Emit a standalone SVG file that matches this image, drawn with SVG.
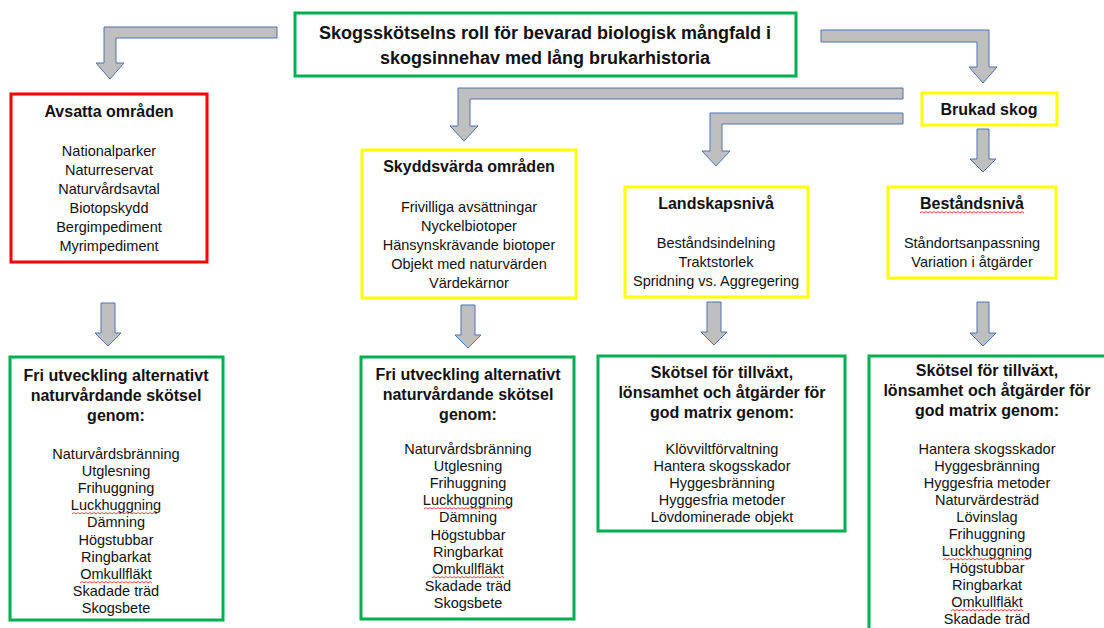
<svg xmlns="http://www.w3.org/2000/svg" width="1104" height="628" viewBox="0 0 1104 628">
<defs>
<style>
.t{font-family:"Liberation Sans",Arial,sans-serif;fill:#111;text-anchor:middle}
.h{font-weight:bold;font-size:16px}
.hb{font-weight:bold;font-size:18px}
.i{font-size:14.5px}
.bx{fill:#fff;stroke-width:3}
.g{stroke:#00B050}
.r{stroke:#FF0000}
.y{stroke:#FFFF00}
.ar{fill:#BFBFBF;stroke:#4F73B0;stroke-width:1;stroke-linejoin:miter}
.sq{fill:none;stroke:#E83030;stroke-width:0.9}
</style>
</defs>
<rect width="1104" height="628" fill="#fff"/>

<g id="connectors">
<path class="ar" d="M277,27 L104,27 L104,63 L96,63 L110,79 L124,63 L116,63 L116,38 L277,38 Z"/>
<path class="ar" d="M821,30 L989,30 L989,67 L997,67 L983,83 L969,67 L977,67 L977,42 L821,42 Z"/>
<path class="ar" d="M903,88 L458,88 L458,126 L450,126 L464,141 L478,126 L470,126 L470,99 L903,99 Z"/>
<path class="ar" d="M903,113 L710,113 L710,151 L702,151 L716,166 L730,151 L722,151 L722,124 L903,124 Z"/>
<path class="ar" d="M101,303 L115,303 L115,333 L121,333 L108,346 L95,333 L101,333 Z"/>
<path class="ar" d="M461,305 L475,305 L475,335 L481,335 L468,348 L455,335 L461,335 Z"/>
<path class="ar" d="M707,302 L721,302 L721,332 L727,332 L714,345 L701,332 L707,332 Z"/>
<path class="ar" d="M977,129 L989,129 L989,159 L996,159 L983,172 L970,159 L977,159 Z"/>
<path class="ar" d="M977,302 L989,302 L989,333 L996,333 L983,346 L970,333 L977,333 Z"/>
</g>

<g id="root">
<rect class="bx g" x="295" y="13" width="501" height="63"/>
<text class="t hb" x="545" y="39">Skogsskötselns roll för bevarad biologisk mångfald i</text>
<text class="t hb" x="545" y="64">skogsinnehav med lång brukarhistoria</text>
</g>

<g id="avsatta">
<rect class="bx r" x="11" y="94" width="196" height="168"/>
<text class="t h" x="109" y="117">Avsatta områden</text>
<text class="t i" x="109" y="156">Nationalparker</text>
<text class="t i" x="109" y="175">Naturreservat</text>
<text class="t i" x="109" y="194">Naturvårdsavtal</text>
<text class="t i" x="109" y="213">Biotopskydd</text>
<text class="t i" x="109" y="232">Bergimpediment</text>
<text class="t i" x="109" y="251">Myrimpediment</text>
</g>

<g id="fri1">
<rect class="bx g" x="10" y="357" width="213" height="263"/>
<text class="t h" x="116" y="381">Fri utveckling alternativt</text>
<text class="t h" x="116" y="401">naturvårdande skötsel</text>
<text class="t h" x="116" y="421">genom:</text>
<text class="t i" x="116" y="459">Naturvårdsbränning</text>
<text class="t i" x="116" y="476">Utglesning</text>
<text class="t i" x="116" y="493">Frihuggning</text>
<text class="t i" x="116" y="510">Luckhuggning</text>
<text class="t i" x="116" y="527">Dämning</text>
<text class="t i" x="116" y="545">Högstubbar</text>
<text class="t i" x="116" y="562">Ringbarkat</text>
<text class="t i" x="116" y="579">Omkullfläkt</text>
<text class="t i" x="116" y="596">Skadade träd</text>
<text class="t i" x="116" y="613">Skogsbete</text>
<path class="sq" d="M72,514 l2,-1.5 l2,1.5 l2,-1.5 l2,1.5 l2,-1.5 l2,1.5 l2,-1.5 l2,1.5 l2,-1.5 l2,1.5 l2,-1.5 l2,1.5 l2,-1.5 l2,1.5 l2,-1.5 l2,1.5 l2,-1.5 l2,1.5 l2,-1.5 l2,1.5 l2,-1.5 l2,1.5 l2,-1.5 l2,1.5 l2,-1.5 l2,1.5 l2,-1.5 l2,1.5 l2,-1.5 l2,1.5 l2,-1.5 l2,1.5 l2,-1.5 l2,1.5 l2,-1.5 l2,1.5 l2,-1.5 l2,1.5 l2,-1.5 l2,1.5 l2,-1.5 l2,1.5 l2,-1.5"/>
<path class="sq" d="M80,583 l2,-1.5 l2,1.5 l2,-1.5 l2,1.5 l2,-1.5 l2,1.5 l2,-1.5 l2,1.5 l2,-1.5 l2,1.5 l2,-1.5 l2,1.5 l2,-1.5 l2,1.5 l2,-1.5 l2,1.5 l2,-1.5 l2,1.5 l2,-1.5 l2,1.5 l2,-1.5 l2,1.5 l2,-1.5 l2,1.5 l2,-1.5 l2,1.5 l2,-1.5 l2,1.5 l2,-1.5 l2,1.5 l2,-1.5 l2,1.5 l2,-1.5 l2,1.5 l2,-1.5 l2,1.5"/>
</g>

<g id="skyddsvarda">
<rect class="bx y" x="362" y="150" width="214" height="148"/>
<text class="t h" x="469" y="172">Skyddsvärda områden</text>
<text class="t i" x="469" y="212">Frivilliga avsättningar</text>
<text class="t i" x="469" y="231">Nyckelbiotoper</text>
<text class="t i" x="469" y="250">Hänsynskrävande biotoper</text>
<text class="t i" x="469" y="269">Objekt med naturvärden</text>
<text class="t i" x="469" y="288">Värdekärnor</text>
</g>

<g id="fri2">
<rect class="bx g" x="361" y="357" width="213" height="262"/>
<text class="t h" x="468" y="380">Fri utveckling alternativt</text>
<text class="t h" x="468" y="400">naturvårdande skötsel</text>
<text class="t h" x="468" y="420">genom:</text>
<text class="t i" x="468" y="454">Naturvårdsbränning</text>
<text class="t i" x="468" y="471">Utglesning</text>
<text class="t i" x="468" y="488">Frihuggning</text>
<text class="t i" x="468" y="505">Luckhuggning</text>
<text class="t i" x="468" y="522">Dämning</text>
<text class="t i" x="468" y="540">Högstubbar</text>
<text class="t i" x="468" y="557">Ringbarkat</text>
<text class="t i" x="468" y="574">Omkullfläkt</text>
<text class="t i" x="468" y="591">Skadade träd</text>
<text class="t i" x="468" y="608">Skogsbete</text>
<path class="sq" d="M424,509 l2,-1.5 l2,1.5 l2,-1.5 l2,1.5 l2,-1.5 l2,1.5 l2,-1.5 l2,1.5 l2,-1.5 l2,1.5 l2,-1.5 l2,1.5 l2,-1.5 l2,1.5 l2,-1.5 l2,1.5 l2,-1.5 l2,1.5 l2,-1.5 l2,1.5 l2,-1.5 l2,1.5 l2,-1.5 l2,1.5 l2,-1.5 l2,1.5 l2,-1.5 l2,1.5 l2,-1.5 l2,1.5 l2,-1.5 l2,1.5 l2,-1.5 l2,1.5 l2,-1.5 l2,1.5 l2,-1.5 l2,1.5 l2,-1.5 l2,1.5 l2,-1.5 l2,1.5 l2,-1.5"/>
<path class="sq" d="M432,578 l2,-1.5 l2,1.5 l2,-1.5 l2,1.5 l2,-1.5 l2,1.5 l2,-1.5 l2,1.5 l2,-1.5 l2,1.5 l2,-1.5 l2,1.5 l2,-1.5 l2,1.5 l2,-1.5 l2,1.5 l2,-1.5 l2,1.5 l2,-1.5 l2,1.5 l2,-1.5 l2,1.5 l2,-1.5 l2,1.5 l2,-1.5 l2,1.5 l2,-1.5 l2,1.5 l2,-1.5 l2,1.5 l2,-1.5 l2,1.5 l2,-1.5 l2,1.5 l2,-1.5 l2,1.5"/>
</g>

<g id="brukad">
<rect class="bx y" x="922" y="93" width="135" height="32"/>
<text class="t h" x="989" y="115">Brukad skog</text>
</g>

<g id="landskap">
<rect class="bx y" x="625" y="187" width="183" height="110"/>
<text class="t h" x="716" y="209">Landskapsnivå</text>
<text class="t i" x="716" y="248">Beståndsindelning</text>
<text class="t i" x="716" y="267">Traktstorlek</text>
<text class="t i" x="716" y="286">Spridning vs. Aggregering</text>
</g>

<g id="skotsel3">
<rect class="bx g" x="598" y="356" width="247" height="175"/>
<text class="t h" x="722" y="378">Skötsel för tillväxt,</text>
<text class="t h" x="722" y="398">lönsamhet och åtgärder för</text>
<text class="t h" x="722" y="418">god matrix genom:</text>
<text class="t i" x="722" y="454">Klövviltförvaltning</text>
<text class="t i" x="722" y="471">Hantera skogsskador</text>
<text class="t i" x="722" y="488">Hyggesbränning</text>
<text class="t i" x="722" y="505">Hyggesfria metoder</text>
<text class="t i" x="722" y="522">Lövdominerade objekt</text>
</g>

<g id="bestand">
<rect class="bx y" x="888" y="187" width="168" height="91"/>
<text class="t h" x="972" y="209">Beståndsnivå</text>
<text class="t i" x="972" y="248">Ståndortsanpassning</text>
<text class="t i" x="972" y="267">Variation i åtgärder</text>
<path class="sq" d="M920,213 l2,-1.5 l2,1.5 l2,-1.5 l2,1.5 l2,-1.5 l2,1.5 l2,-1.5 l2,1.5 l2,-1.5 l2,1.5 l2,-1.5 l2,1.5 l2,-1.5 l2,1.5 l2,-1.5 l2,1.5 l2,-1.5 l2,1.5 l2,-1.5 l2,1.5 l2,-1.5 l2,1.5 l2,-1.5 l2,1.5 l2,-1.5 l2,1.5 l2,-1.5 l2,1.5 l2,-1.5 l2,1.5 l2,-1.5 l2,1.5 l2,-1.5 l2,1.5 l2,-1.5 l2,1.5 l2,-1.5 l2,1.5 l2,-1.5 l2,1.5 l2,-1.5 l2,1.5 l2,-1.5 l2,1.5 l2,-1.5 l2,1.5 l2,-1.5 l2,1.5 l2,-1.5 l2,1.5 l2,-1.5 l2,1.5"/>
</g>

<g id="skotsel4">
<rect class="bx g" x="869" y="356" width="240" height="280"/>
<text class="t h" x="987" y="376">Skötsel för tillväxt,</text>
<text class="t h" x="987" y="396">lönsamhet och åtgärder för</text>
<text class="t h" x="987" y="416">god matrix genom:</text>
<text class="t i" x="987" y="454">Hantera skogsskador</text>
<text class="t i" x="987" y="471">Hyggesbränning</text>
<text class="t i" x="987" y="488">Hyggesfria metoder</text>
<text class="t i" x="987" y="505">Naturvärdesträd</text>
<text class="t i" x="987" y="522">Lövinslag</text>
<text class="t i" x="987" y="539">Frihuggning</text>
<text class="t i" x="987" y="556">Luckhuggning</text>
<text class="t i" x="987" y="573">Högstubbar</text>
<text class="t i" x="987" y="590">Ringbarkat</text>
<text class="t i" x="987" y="607">Omkullfläkt</text>
<text class="t i" x="987" y="624">Skadade träd</text>
<path class="sq" d="M943,560 l2,-1.5 l2,1.5 l2,-1.5 l2,1.5 l2,-1.5 l2,1.5 l2,-1.5 l2,1.5 l2,-1.5 l2,1.5 l2,-1.5 l2,1.5 l2,-1.5 l2,1.5 l2,-1.5 l2,1.5 l2,-1.5 l2,1.5 l2,-1.5 l2,1.5 l2,-1.5 l2,1.5 l2,-1.5 l2,1.5 l2,-1.5 l2,1.5 l2,-1.5 l2,1.5 l2,-1.5 l2,1.5 l2,-1.5 l2,1.5 l2,-1.5 l2,1.5 l2,-1.5 l2,1.5 l2,-1.5 l2,1.5 l2,-1.5 l2,1.5 l2,-1.5 l2,1.5 l2,-1.5"/>
<path class="sq" d="M951,611 l2,-1.5 l2,1.5 l2,-1.5 l2,1.5 l2,-1.5 l2,1.5 l2,-1.5 l2,1.5 l2,-1.5 l2,1.5 l2,-1.5 l2,1.5 l2,-1.5 l2,1.5 l2,-1.5 l2,1.5 l2,-1.5 l2,1.5 l2,-1.5 l2,1.5 l2,-1.5 l2,1.5 l2,-1.5 l2,1.5 l2,-1.5 l2,1.5 l2,-1.5 l2,1.5 l2,-1.5 l2,1.5 l2,-1.5 l2,1.5 l2,-1.5 l2,1.5 l2,-1.5 l2,1.5"/>
</g>
</svg>
